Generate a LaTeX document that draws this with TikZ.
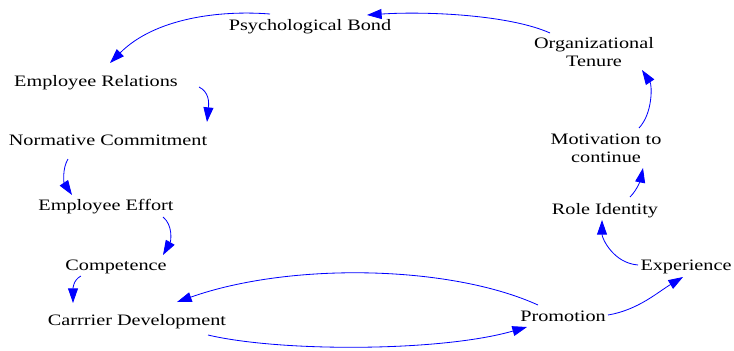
\documentclass[tikz,border=0pt]{standalone}
\usepackage{fontspec}
\setmainfont{Liberation Serif}[FakeStretch=1.27]
\usetikzlibrary{arrows.meta,calc}
\begin{document}
\begin{tikzpicture}[x=0.03cm,y=-0.03cm,
  factor/.style={inner sep=0pt,align=center,font=\fontsize{13.6pt}{15.4pt}\selectfont},
  oneline/.style={factor,anchor=base},
  link/.style={draw=blue,line width=0.7pt,-{Triangle[length=12.5pt,width=8.5pt]},fill=none}]
\useasboundingbox (0,0) rectangle (734,350);

% factors of the loop (single-line ones sit on their baselines)
\node[oneline] (bond)   at (310,30)  {Psychological Bond};
\node[factor]  (tenure) at (594,52)  {Organizational\\Tenure};
\node[oneline] (rel)    at (96,86)   {Employee Relations};
\node[oneline] (norm)   at (108,145) {Normative Commitment};
\node[oneline] (effort) at (106,210) {Employee Effort};
\node[oneline] (comp)   at (116,270) {Competence};
\node[oneline] (career) at (137,325) {Carrrier Development};
\node[oneline] (promo)  at (563,321) {Promotion};
\node[oneline] (exper)  at (686,270) {Experience};
\node[oneline] (role)   at (605,214) {Role Identity};
\node[factor]  (motiv)  at (606,148) {Motivation to\\continue};

% causal links
\draw[link] ($(tenure)+(-44,-19)$) .. controls +(-40,-18) and +(60,-4) .. ($(bond.base)+(57,-15)$);
\draw[link] ($(bond.base)+(-40,-16)$) .. controls +(-50,-4) and +(45,-45) .. ($(rel.base)+(14,-23)$);
\draw[link] ($(rel.base)+(103,1)$) .. controls +(10,5) and +(2,-20) .. ($(norm.base)+(99,-23)$);
\draw[link] ($(norm.base)+(-40,14)$) .. controls +(-6,10) and +(-8,-12) .. ($(effort.base)+(-34,-15)$);
\draw[link] ($(effort.base)+(57,7)$) .. controls +(10,8) and +(8,-14) .. ($(comp.base)+(47,-15)$);
\draw[link] ($(comp.base)+(-35,6)$) .. controls +(-8,4) and +(0,-14) .. ($(career.base)+(-64,-22)$);
\draw[link] ($(promo.base)+(-25,-16)$) .. controls +(-88,-40) and +(113,-40) .. ($(career.base)+(40,-23)$);
\draw[link] ($(career.base)+(71,10)$) .. controls +(72,17) and +(-87,25) .. ($(promo.base)+(-36,6)$);
\draw[link] ($(promo.base)+(45,-6)$) .. controls +(30,-5) and +(-25,15) .. ($(exper.base)+(-3,7)$);
\draw[link] ($(exper.base)+(-48,-5)$) .. controls +(-25,-2) and +(0,18) .. ($(role.base)+(-3,6)$);
\draw[link] ($(role.base)+(25,-17)$) .. controls +(8,-8) and +(-2,10) .. ($(motiv)+(37,20)$);
\draw[link] ($(motiv)+(33,-20)$) .. controls +(14,-15) and +(10,15) .. ($(tenure)+(48,18)$);
\end{tikzpicture}
\end{document}
